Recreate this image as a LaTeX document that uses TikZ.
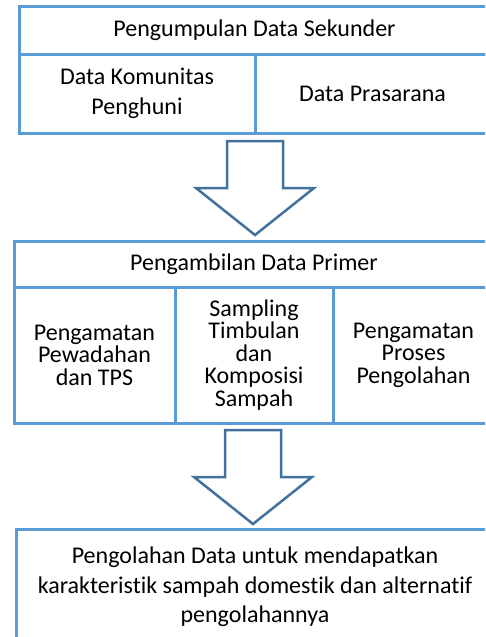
\documentclass[tikz,border=0pt]{standalone}
\usepackage{fontspec}
\setmainfont{Carlito}[Ligatures={NoCommon,NoContextual},Contextuals=NoAlternate]
\definecolor{boxblue}{HTML}{5B9BD5}
\definecolor{arrowblue}{HTML}{41719C}
\tikzset{
  cell/.style={draw=boxblue, line width=3pt, fill=white, inner sep=0pt,
    align=center, font=\fontsize{24}{29.5}\selectfont, text=black},
  tightcell/.style={cell, font=\fontsize{24}{22.5}\selectfont},
  arrowline/.style={draw=arrowblue, line width=2.5pt, fill=white, line join=miter},
  blockarrow/.pic={\draw[arrowline] (-28,0) -- (28,0) -- (28,47) -- (59,47) -- (0,94) -- (-59,47) -- (-28,47) -- cycle;}
}
\begin{document}
\begin{tikzpicture}[x=1pt,y=-1pt]
\useasboundingbox (0,0) rectangle (485,637);
\clip (0,0) rectangle (485,637);
% block 1
\node[cell, minimum width=471pt, minimum height=48pt] (sek) at (254.5,30) {Pengumpulan Data Sekunder};
\node[cell, minimum width=236pt, minimum height=79pt] (kom) at (137,93.5) {Data Komunitas\\Penghuni};
\node[cell, minimum width=235pt, minimum height=79pt] (pra) at (372.5,93.5) {Data Prasarana};
% arrow 1
\coordinate (a1) at (255,141);
\pic at (a1) {blockarrow};
% block 2
\node[cell, minimum width=480pt, minimum height=46pt] (pri) at (254,264) {Pengambilan Data Primer};
\node[tightcell, minimum width=161pt, minimum height=136pt] (pew) at (94.5,355) {Pengamatan\\Pewadahan\\dan TPS};
\node[tightcell, minimum width=158pt, minimum height=136pt] (sam) at (254,355) {Sampling\\Timbulan\\dan\\Komposisi\\Sampah};
\node[tightcell, minimum width=161pt, minimum height=136pt] (pro) at (413.5,355) {Pengamatan\\Proses\\Pengolahan};
% arrow 2
\coordinate (a2) at (253,430);
\pic at (a2) {blockarrow};
% block 3
\node[cell, minimum width=478pt, minimum height=116pt] (olah) at (255,587) {Pengolahan Data untuk mendapatkan\\karakteristik sampah domestik dan alternatif\\pengolahannya};
\end{tikzpicture}
\end{document}
